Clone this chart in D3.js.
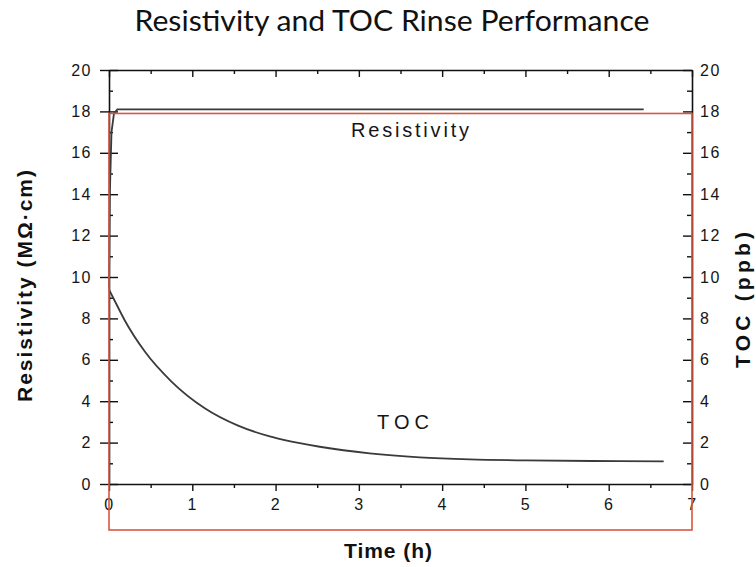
<!DOCTYPE html>
<html>
<head>
<meta charset="utf-8">
<script src="https://cdn.jsdelivr.net/npm/d3@7"></script>
<style>
  body { margin: 0; background: #fff; }
  svg { display: block; }
</style>
</head>
<body>
<svg id="chart" width="756" height="567"></svg>
<script>
// values
const timeTicks = [0, 1, 2, 3, 4, 5, 6, 7];
const timeMinor = [0.5, 1.5, 2.5, 3.5, 4.5, 5.5, 6.5];
const yTicks = [0, 2, 4, 6, 8, 10, 12, 14, 16, 18, 20];
const yMinor = [1, 3, 5, 7, 9, 11, 13, 15, 17, 19];

const resTime = [0, 0.01, 0.03, 0.06, 0.1, 6.42];
const resValue = [9.5, 14, 17.0, 17.9, 18.1, 18.1];

const tocTime = [0, 0.1, 0.19, 0.43, 0.75, 1.15, 1.55, 1.93, 2.11, 2.53, 3.13, 3.73, 4.33, 5.0, 5.8, 6.66];
const tocValue = [9.4, 8.6, 7.9, 6.4, 4.95, 3.66, 2.82, 2.3, 2.12, 1.8, 1.48, 1.29, 1.19, 1.14, 1.11, 1.09];

const svg = d3.select("#chart");
const plotL = 109, plotR = 692, plotT = 70, plotB = 484;

const x = d3.scaleLinear().domain([0, 7]).range([plotL, plotR]);
const y = d3.scaleLinear().domain([0, 20]).range([plotB, plotT]);
const y2 = d3.scaleLinear().domain([0, 20]).range([plotB, plotT]);

const tickFont = "'Liberation Sans', Arial, sans-serif";

function styleAxis(g) {
  g.selectAll("path.domain").attr("stroke", "#111").attr("stroke-width", 1.6);
  g.selectAll(".tick line").attr("stroke", "#111").attr("stroke-width", 1.4);
  g.selectAll(".tick text")
    .attr("fill", "#151515")
    .style("font-family", tickFont)
    .style("font-size", "16px")
    .style("letter-spacing", "1.5px");
}

// bottom axis
svg.append("g").attr("transform", `translate(0,${plotB})`)
  .call(d3.axisBottom(x).tickValues(timeTicks).tickSize(7).tickSizeOuter(0).tickPadding(8).tickFormat(d3.format("d")))
  .call(styleAxis);
svg.append("g").attr("transform", `translate(0,${plotB})`)
  .call(d3.axisBottom(x).tickValues(timeMinor).tickSize(4).tickFormat(""))
  .call(styleAxis).call(g => g.select(".domain").remove());

// top axis, ticks pointing in
svg.append("g").attr("transform", `translate(0,${plotT})`)
  .call(d3.axisTop(x).tickValues(timeTicks).tickSize(-7).tickSizeOuter(0).tickFormat(""))
  .call(styleAxis);
svg.append("g").attr("transform", `translate(0,${plotT})`)
  .call(d3.axisTop(x).tickValues(timeMinor).tickSize(-4).tickFormat(""))
  .call(styleAxis).call(g => g.select(".domain").remove());

// left axis, major ticks cross the line
svg.append("g").attr("transform", `translate(${plotL},0)`)
  .call(d3.axisLeft(y).tickValues(yTicks).tickSize(9).tickSizeOuter(0).tickPadding(8).tickFormat(d3.format("d")))
  .call(styleAxis);
svg.append("g").attr("transform", `translate(${plotL},0)`)
  .call(d3.axisLeft(y).tickValues(yTicks).tickSize(-9).tickFormat(""))
  .call(styleAxis).call(g => g.select(".domain").remove());
svg.append("g").attr("transform", `translate(${plotL},0)`)
  .call(d3.axisLeft(y).tickValues(yMinor).tickSize(-4).tickFormat(""))
  .call(styleAxis).call(g => g.select(".domain").remove());

// right axis (TOC)
svg.append("g").attr("transform", `translate(${plotR},0)`)
  .call(d3.axisRight(y2).tickValues(yTicks).tickSize(-9).tickSizeOuter(0).tickPadding(8).tickFormat(d3.format("d")))
  .call(styleAxis);
svg.append("g").attr("transform", `translate(${plotR},0)`)
  .call(d3.axisRight(y2).tickValues(yMinor).tickSize(-5).tickFormat(""))
  .call(styleAxis).call(g => g.select(".domain").remove());

// curves
const resLine = d3.line().x((d, i) => x(resTime[i])).y(d => y(d));
svg.append("path").attr("d", resLine(resValue))
  .attr("fill", "none").attr("stroke", "#3a3a3a").attr("stroke-width", 1.8);

const tocLine = d3.line().x((d, i) => x(tocTime[i])).y(d => y2(d)).curve(d3.curveMonotoneX);
svg.append("path").attr("d", tocLine(tocValue))
  .attr("fill", "none").attr("stroke", "#3a3a3a").attr("stroke-width", 1.8);

// red box
svg.append("rect")
  .attr("x", x(0)).attr("y", y(17.9))
  .attr("width", x(7) - x(0)).attr("height", 530 - y(17.9))
  .attr("fill", "none").attr("stroke", "#d8583f").attr("stroke-width", 1.6);

// curve labels
svg.append("text").attr("x", 410).attr("y", 137).attr("text-anchor", "middle")
  .attr("textLength", 118).attr("lengthAdjust", "spacing")
  .style("font-family", tickFont).style("font-size", "20px").attr("fill", "#151515")
  .text("Resistivity");
svg.append("text").attr("x", 403).attr("y", 429).attr("text-anchor", "middle")
  .attr("textLength", 52).attr("lengthAdjust", "spacing")
  .style("font-family", tickFont).style("font-size", "20px").attr("fill", "#151515")
  .text("TOC");

// titles
svg.append("text").attr("x", 392).attr("y", 31).attr("text-anchor", "middle")
  .attr("textLength", 515).attr("lengthAdjust", "spacingAndGlyphs")
  .style("font-family", "Lato, 'Open Sans', sans-serif").style("font-size", "28px").attr("fill", "#111")
  .text("Resistivity and TOC Rinse Performance");

svg.append("text").attr("x", 388).attr("y", 558).attr("text-anchor", "middle")
  .attr("textLength", 88).attr("lengthAdjust", "spacing")
  .style("font-family", tickFont).style("font-size", "21px").style("font-weight", "bold").attr("fill", "#111")
  .text("Time (h)");

svg.append("text").attr("transform", "translate(32,286) rotate(-90)").attr("text-anchor", "middle")
  .attr("textLength", 232).attr("lengthAdjust", "spacing")
  .style("font-family", tickFont).style("font-size", "21px").style("font-weight", "bold").attr("fill", "#111")
  .text("Resistivity (M\u03A9\u00B7cm)");

svg.append("text").attr("transform", "translate(750,300) rotate(-90)").attr("text-anchor", "middle")
  .attr("textLength", 136).attr("lengthAdjust", "spacing")
  .style("font-family", tickFont).style("font-size", "21px").style("font-weight", "bold").attr("fill", "#111")
  .text("TOC (ppb)");
</script>
</body>
</html>
